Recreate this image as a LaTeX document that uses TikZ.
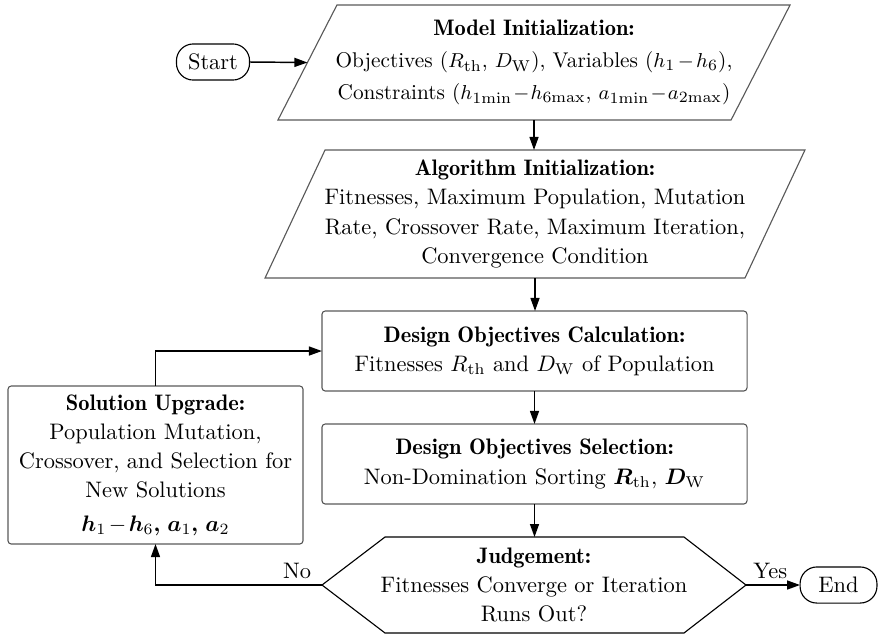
\documentclass[tikz,border=0pt]{standalone}
\usepackage{bm}
\usetikzlibrary{arrows.meta,calc}
\newcommand{\ttl}[1]{{\fontseries{b}\selectfont #1}}
\newcommand{\mns}{\mskip2mu{-}\mskip2mu}
\newcommand{\mnt}{\mskip1mu{-}\mskip1mu}
\begin{document}
\begin{tikzpicture}[x=0.446pt,y=-0.446pt,
  txt/.style={align=center,inner sep=0pt,outer sep=0pt,font=\fontsize{10}{13}\selectfont},
  frame/.style={draw=black!65,line width=0.5pt},
  boxnode/.style={txt,frame,rounded corners=1.5pt},
  term/.style={txt,frame,draw=black,rounded corners=7.5pt,minimum height=16.1pt},
  arr/.style={-{Triangle[length=5.8pt,width=4pt]},line width=0.65pt,black},
  ln/.style={line width=0.65pt,black}]
\useasboundingbox (0,0) rectangle (878,634);

% nodes
\node[term,minimum width=32.6pt] (start) at (213,62) {Start};
\node[term,minimum width=34.3pt] (end) at (838.5,585) {End};

\node[txt,minimum width=228.4pt,minimum height=51.3pt,font=\fontsize{9.5}{14.2}\selectfont] (m) at (534,62.5)
 {{\fontsize{10}{14.2}\selectfont\ttl{Model Initialization:}}\\
  Objectives ($R_\mathrm{th}$, $D_\mathrm{W}$), Variables ($h_1\mns h_6$),\\
  Constraints ($h_{1\mathrm{min}}\mnt h_{6\mathrm{max}}$, $a_{1\mathrm{min}}\mnt a_{2\mathrm{max}}$)};
\draw[frame] ($(m.north west)+(59,0)$) -- (m.north east) -- ($(m.south east)+(-59,0)$) -- (m.south west) -- cycle;

\node[txt,minimum width=240.8pt,minimum height=57.1pt] (a) at (535,214)
 {\ttl{Algorithm Initialization:}\\
  Fitnesses, Maximum Population, Mutation\\
  Rate, Crossover Rate, Maximum Iteration,\\
  Convergence Condition};
\draw[frame] ($(a.north west)+(60,0)$) -- (a.north east) -- ($(a.south east)+(-60,0)$) -- (a.south west) -- cycle;

\node[boxnode,minimum width=189.6pt,minimum height=35.7pt] (c) at (534.5,351)
 {\ttl{Design Objectives Calculation:}\\
  Fitnesses $R_\mathrm{th}$ and $D_\mathrm{W}$ of Population};

\node[boxnode,minimum width=189.6pt,minimum height=35.7pt] (s) at (534.5,464)
 {\ttl{Design Objectives Selection:}\\
  Non-Domination Sorting $\bm{R}_\mathrm{th}$, $\bm{D}_\mathrm{W}$};

\node[txt,minimum width=189.1pt,minimum height=42.8pt] (j) at (534,585)
 {\ttl{Judgement:}\\
  Fitnesses Converge or Iteration\\
  Runs Out?};
\draw[frame,draw=black] (j.west) -- ($(j.north west)+(63,0)$) -- ($(j.north east)+(-62,0)$) -- (j.east)
  -- ($(j.south east)+(-62,0)$) -- ($(j.south west)+(63,0)$) -- cycle;

\node[boxnode,minimum width=131.6pt,minimum height=70.5pt] (u) at (155.5,465)
 {\ttl{Solution Upgrade:}\\
  Population Mutation,\\
  Crossover, and Selection for\\
  New Solutions\\[2pt]
  $\bm{h}_1\mns\bm{h}_6$\ttl{,} $\bm{a}_1$\ttl{,} $\bm{a}_2$};

% connectors
\coordinate (mleft) at ($(m.west)+(29.5,0)$);
\draw[arr] (start.east) -- (mleft);
\draw[arr] (m.south) -- (m.south |- a.north);
\draw[arr] (a.south) -- (a.south |- c.north);
\draw[arr] (c.south) -- (s.north);
\draw[arr] (s.south) -- (s.south |- j.north);
\draw[arr] (j.east) -- node[txt,above=3pt,pos=0.45] (yes) {Yes} (end.west);
\draw[arr] (j.west) -- node[txt,above=3pt,pos=0.15] (no) {No} (j.west -| u.south) -- (u.south);
\draw[arr] (u.north) |- (c.west);
\end{tikzpicture}
\end{document}
